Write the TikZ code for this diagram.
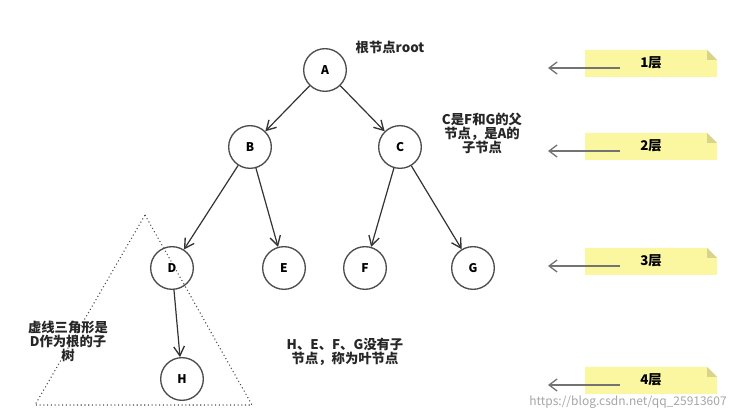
\documentclass[tikz,border=0pt]{standalone}
\usepackage{fontspec}
\setmainfont{Noto Sans CJK SC}
\usetikzlibrary{arrows.meta}
\definecolor{noteY}{HTML}{FBF7A0}
\definecolor{noteF}{HTML}{D8D48A}
\begin{document}
\begin{tikzpicture}[x=0.75pt,y=-0.75pt,
  tn/.style={circle,draw=black!70,line width=1pt,minimum size=32pt,inner sep=0pt,font=\bfseries\small},
  ed/.style={draw=black!80,line width=0.9pt,-{Straight Barb[length=7pt,width=8pt,line width=1pt]}},
  lbl/.style={font=\bfseries\fontsize{10}{10.5}\selectfont,align=center,inner sep=0pt,text=black!85},
  ly/.style={font=\bfseries\fontsize{10}{12}\selectfont,inner sep=0pt},
  la/.style={draw=black!55,line width=1pt,-{Straight Barb[length=6pt,width=9pt]}}]
\useasboundingbox (0,0) rectangle (743,420);
\fill[white] (0,0) rectangle (743,420);
\draw[dotted,black!70,line width=0.8pt] (145,215) -- (252,405) -- (35,405) -- cycle;
\node[tn] (A) at (325,70) {A};
\node[tn] (B) at (250,147) {B};
\node[tn] (C) at (400,147) {C};
\node[tn] (D) at (172,268) {D};
\node[tn] (E) at (284,268) {E};
\node[tn] (F) at (365,268) {F};
\node[tn] (G) at (473,268) {G};
\node[tn] (H) at (182,379) {H};
\draw[ed] (A) -- (B);
\draw[ed] (A) -- (C);
\draw[ed] (B) -- (D);
\draw[ed] (B) -- (E);
\draw[ed] (C) -- (F);
\draw[ed] (C) -- (G);
\draw[ed] (D) -- (H);
\node[lbl] (rt) at (390,47) {根节点root};
\node[lbl] (ct) at (482,133) {C是F和G的父\\节点，是A的\\子节点};
\node[lbl] (st) at (68,341) {虚线三角形是\\D作为根的子\\树};
\node[lbl] (lf) at (345,352) {H、E、F、G没有子\\节点，称为叶节点};
\foreach \n/\y in {1/63,2/146,3/261,4/380}{
  \fill[noteY] (585,\y-13) -- (707,\y-13) -- (717,\y-3) -- (717,\y+14) -- (585,\y+14) -- cycle;
  \fill[noteF] (707,\y-13) -- (717,\y-3) -- (707,\y-3) -- cycle;
  \node[ly] (L\n) at (651,\y) {\n 层};
  \coordinate (s\n) at (620,\y+5);
  \coordinate (e\n) at (548,\y+5);
  \draw[la] (s\n) -- (e\n);
}
\node[font=\small,text=black!35,inner sep=0pt] (wm) at (628,402) {https://blog.csdn.net/qq\_25913607};
\end{tikzpicture}
\end{document}
